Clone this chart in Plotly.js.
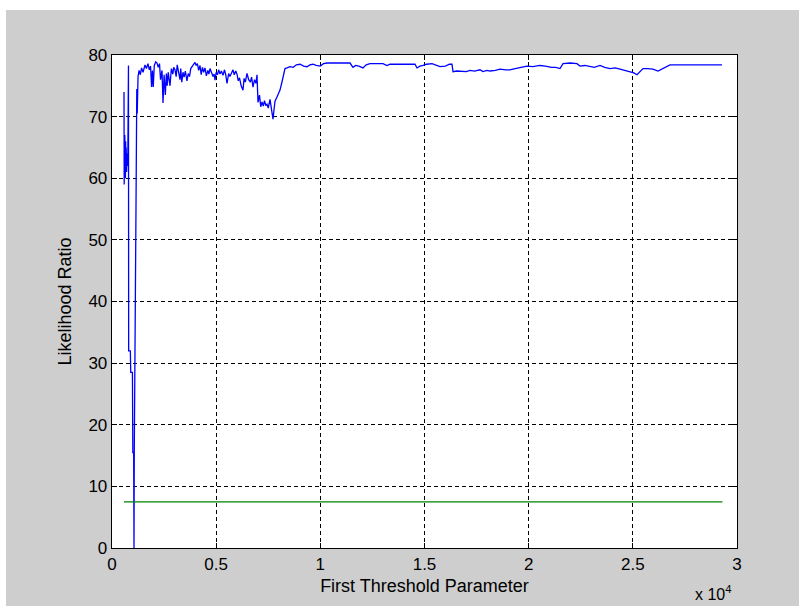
<!DOCTYPE html>
<html>
<head>
<meta charset="utf-8">
<script src="https://cdn.plot.ly/plotly-3.0.1.min.js"></script>
<style>
  html, body { margin: 0; padding: 0; background: #ffffff; width: 799px; height: 606px; overflow: hidden; }
  #chart { position: absolute; left: 6px; top: 10px; width: 793px; height: 596px; }
</style>
</head>
<body>
<div id="chart"></div>
<script>
// Blue series: likelihood ratio vs first threshold parameter
const thresholdX = [
  576, 585, 595, 605, 615, 625, 635, 645, 655, 665, 680, 700, 720, 740, 760, 768, 790, 800, 880, 900,
  980, 1000, 1040, 1056, 1070, 1150, 1190, 1210, 1250, 1300, 1360, 1420, 1490, 1540, 1584, 1650, 1728, 1790, 1850, 1900,
  1940, 1980, 2030, 2100, 2160, 2220, 2280, 2330, 2400, 2448, 2500, 2560, 2610, 2650, 2700, 2784, 2850, 2920, 2960, 3024,
  3080, 3130, 3190, 3264, 3300, 3350, 3408, 3460, 3520, 3600, 3660, 3720, 3780, 3840, 3900, 3984, 4040, 4100, 4160, 4224,
  4280, 4340, 4400, 4464, 4530, 4600, 4650, 4704, 4780, 4850, 4900, 4944, 5000, 5060, 5120, 5184, 5250, 5328, 5400, 5460,
  5520, 5600, 5660, 5730, 5808, 5870, 5940, 6000, 6060, 6120, 6200, 6288, 6340, 6400, 6480, 6560, 6640, 6700, 6768, 6840,
  6910, 6960, 7008, 7080, 7140, 7200, 7260, 7320, 7380, 7440, 7500, 7584, 7650, 7728, 7780, 7824, 7920, 8064, 8150, 8230,
  8304, 8400, 8544, 8700, 8850, 9024, 9200, 9360, 9500, 9648, 9800, 10000, 10150, 10320, 10600, 10944, 11200, 11424, 11568, 11700,
  11850, 12048, 12200, 12384, 12700, 13008, 13200, 13344, 13700, 14100, 14544, 14640, 14780, 14928, 15100, 15360, 15550, 15744, 16000, 16200,
  16320, 16368, 16560, 16800, 17000, 17184, 17400, 17664, 17800, 18000, 18144, 18400, 18624, 18900, 19104, 19350, 19584, 19920, 20200, 20544,
  20800, 21100, 21300, 21504, 21648, 22000, 22320, 22464, 22700, 22944, 23150, 23424, 23650, 23904, 24150, 24384, 24600, 24864, 25050, 25200,
  25488, 25700, 25968, 26208, 26450, 26640, 26784, 28000, 29280
];
const likelihoodY = [
  74, 59, 66, 60.5, 67, 61, 65, 60, 66, 62, 65, 61, 64, 62, 63, 78.3, 78.3, 32, 32, 28.5,
  28.5, 15.5, 15.5, 0, 16, 54.5, 74.5, 70.5, 76.5, 77.5, 76.8, 77.9, 77.2, 78.2, 78.4, 77.8, 78.6, 77.6, 78.2, 74.8,
  77.5, 74.8, 78.3, 78.9, 78.7, 78.0, 78.6, 76.0, 77.5, 72.2, 76.8, 73.5, 77.0, 75.0, 77.2, 75.0, 77.8, 76.9, 78.0, 77.6,
  76.5, 78.4, 77.0, 76.0, 77.8, 75.6, 77.2, 76.4, 77.4, 75.8, 77.0, 76.5, 77.8, 78.2, 78.4, 78.8, 78.3, 78.6, 77.5, 78.3,
  76.8, 78.0, 77.2, 77.9, 76.6, 77.5, 76.9, 77.8, 77.0, 76.5, 76.9, 75.9, 77.2, 76.8, 77.6, 76.9, 77.4, 76.7, 77.6, 76.8,
  75.4, 77.0, 76.5, 77.2, 77.6, 76.8, 77.4, 76.9, 75.8, 76.3, 75.0, 74.3, 76.2, 75.6, 77.0, 76.0, 75.6, 76.4, 74.8, 76.0,
  75.4, 76.8, 72.3, 73.5, 71.6, 72.4, 71.7, 72.6, 71.8, 72.0, 71.4, 72.8, 71.0, 69.6, 71.2, 72.5, 73.2, 74.3, 75.5, 76.8,
  77.8, 77.9, 78.1, 78.0, 78.4, 78.5, 78.2, 78.1, 78.4, 78.5, 78.3, 78.2, 78.6, 78.7, 78.7, 78.8, 78.8, 78.7, 78.0, 78.3,
  78.2, 77.9, 78.4, 78.6, 78.6, 78.6, 78.3, 78.5, 78.5, 78.5, 78.5, 77.9, 78.2, 78.3, 78.5, 78.6, 78.3, 78.1, 78.2, 78.5,
  78.5, 77.3, 77.4, 77.4, 77.3, 77.5, 77.4, 77.6, 77.3, 77.5, 77.4, 77.5, 77.7, 77.6, 77.6, 77.8, 78.0, 78.2, 78.1, 78.3,
  78.2, 78.0, 78.0, 77.8, 78.6, 78.7, 78.6, 78.2, 78.3, 78.2, 78.0, 78.3, 78.0, 77.8, 77.9, 77.7, 77.5, 77.3, 77.1, 76.8,
  77.8, 77.8, 77.7, 77.4, 77.8, 78.2, 78.4, 78.4, 78.4
];
// Green series: constant critical value
const criticalX = [576, 29300];
const criticalY = [7.5, 7.5];

// Axis ticks
const xTickVals = [0, 5000, 10000, 15000, 20000, 25000, 30000];
const xTickText = ["0", "0.5", "1", "1.5", "2", "2.5", "3"];
const yTickVals = [0, 10, 20, 30, 40, 50, 60, 70, 80];

const font = "Liberation Sans, Arial, sans-serif";

const traces = [
  { x: thresholdX, y: likelihoodY, type: "scatter", mode: "lines",
    line: { color: "#0000ff", width: 1.3 }, hoverinfo: "skip", showlegend: false },
  { x: criticalX, y: criticalY, type: "scatter", mode: "lines",
    line: { color: "#008000", width: 1.3 }, hoverinfo: "skip", showlegend: false }
];

const axisCommon = {
  showline: true, mirror: "ticks", linecolor: "#000000", linewidth: 1.3,
  ticks: "inside", ticklen: 5, tickcolor: "#000000", tickwidth: 1,
  showgrid: true, gridcolor: "#000000", gridwidth: 1, griddash: "4px,3px",
  zeroline: false, tickfont: { family: font, size: 17, color: "#000000" }
};

const layout = {
  width: 793, height: 596,
  margin: { l: 106, r: 62, t: 45, b: 58 },
  paper_bgcolor: "#cecece", plot_bgcolor: "#ffffff",
  showlegend: false,
  xaxis: Object.assign({}, axisCommon, {
    range: [0, 30000], tickmode: "array", tickvals: xTickVals, ticktext: xTickText,
    title: { text: "First Threshold Parameter", font: { family: font, size: 18, color: "#000000" }, standoff: 6 }
  }),
  yaxis: Object.assign({}, axisCommon, {
    range: [0, 80], tickmode: "array", tickvals: yTickVals,
    title: { text: "Likelihood Ratio", font: { family: font, size: 18, color: "#000000" }, standoff: 12 }
  }),
  annotations: [{
    xref: "paper", yref: "paper", x: 1.0, y: 0, xanchor: "right", yanchor: "top", yshift: -33, xshift: -4,
    text: "x 10<sup>4</sup>", showarrow: false, font: { family: font, size: 16, color: "#000000" }
  }]
};

Plotly.newPlot("chart", traces, layout, { displayModeBar: false, staticPlot: true });
</script>
</body>
</html>
